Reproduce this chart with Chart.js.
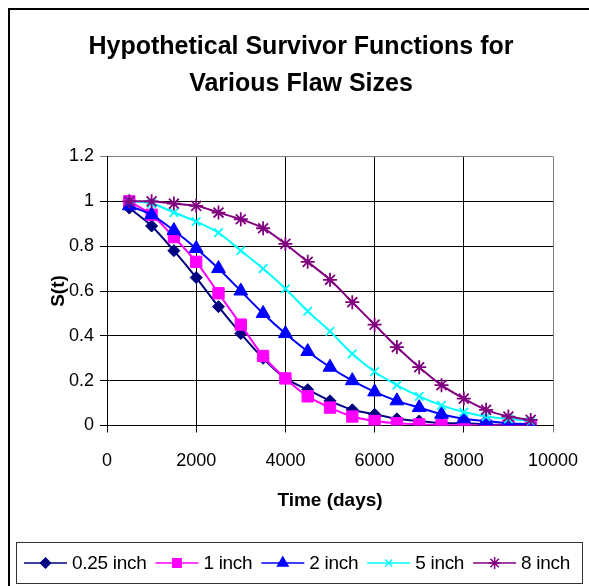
<!DOCTYPE html>
<html>
<head>
<meta charset="utf-8">
<script src="https://cdn.jsdelivr.net/npm/chart.js@4/dist/chart.umd.min.js"></script>
<style>
	html, body { margin: 0; padding: 0; background: #fff; }
	#wrap { width: 589px; height: 586px; }
</style>
</head>
<body>
<div id="wrap"><canvas id="survivor-chart" width="589" height="586"></canvas></div>
<script>
const times = [500, 1000, 1500, 2000, 2500, 3000, 3500, 4000, 4500, 5000, 5500, 6000, 6500, 7000, 7500, 8000, 8500, 9000, 9500];
const flaw025 = [0.97, 0.89, 0.78, 0.66, 0.53, 0.41, 0.30, 0.21, 0.16, 0.11, 0.07, 0.05, 0.03, 0.02, 0.01, 0.01, 0.005, 0.003, 0.002];
const flaw1 = [1.00, 0.94, 0.84, 0.73, 0.59, 0.45, 0.31, 0.21, 0.13, 0.08, 0.04, 0.02, 0.01, 0.005, 0.002, 0.001, 0, 0, 0];
const flaw2 = [0.98, 0.94, 0.87, 0.79, 0.70, 0.60, 0.50, 0.41, 0.33, 0.26, 0.20, 0.15, 0.11, 0.08, 0.05, 0.03, 0.02, 0.01, 0.005];
const flaw5 = [1.00, 0.99, 0.95, 0.91, 0.86, 0.78, 0.70, 0.61, 0.51, 0.42, 0.32, 0.24, 0.18, 0.13, 0.09, 0.06, 0.04, 0.03, 0.02];
const flaw8 = [1.00, 1.00, 0.99, 0.98, 0.95, 0.92, 0.88, 0.81, 0.73, 0.65, 0.55, 0.45, 0.35, 0.26, 0.18, 0.12, 0.07, 0.04, 0.025];

const seriesNames = ['0.25 inch', '1 inch', '2 inch', '5 inch', '8 inch'];
const seriesValues = [flaw025, flaw1, flaw2, flaw5, flaw8];
const seriesColors = ['#000080', '#FF00FF', '#0000FF', '#00FFFF', '#800080'];
const seriesMarkers = ['rectRot', 'rect', 'triangle', 'crossRot', 'star'];
const markerSizes = [6, 8, 8, 6, 7];
const legendSizes = [5, 6, 6, 5, 6];

const FONT = 'Arial, "Liberation Sans", sans-serif';

const toPoints = (vals) => vals.map((v, i) => ({x: times[i], y: v}));

// outer frame + Excel style legend box
const excelFrame = {
	id: 'excelFrame',
	afterDraw(chart) {
		const ctx = chart.ctx;
		ctx.save();
		ctx.strokeStyle = '#000';
		ctx.lineWidth = 2;
		ctx.strokeRect(9, 9, 700, 700);

		ctx.lineWidth = 1;
		ctx.strokeStyle = '#333';
		ctx.strokeRect(16.5, 542.5, 566, 41);

		const y = 563;
		let x = 24;
		ctx.font = '19px ' + FONT;
		ctx.letterSpacing = '-0.3px';
		ctx.textBaseline = 'middle';
		seriesNames.forEach((name, i) => {
			ctx.strokeStyle = seriesColors[i];
			ctx.lineWidth = 1.5;
			ctx.beginPath();
			ctx.moveTo(x, y);
			ctx.lineTo(x + 43, y);
			ctx.stroke();
			ctx.fillStyle = seriesColors[i];
			Chart.helpers.drawPoint(ctx, {
				pointStyle: seriesMarkers[i],
				radius: legendSizes[i],
				rotation: 0,
				borderWidth: 1.5,
			}, x + 21.5, y);
			ctx.fillStyle = '#000';
			ctx.fillText(name, x + 48, y + 1);
			x += 48 + ctx.measureText(name).width + 9;
		});
		ctx.restore();
	}
};

new Chart(
	document.getElementById('survivor-chart'),
	{
		type: 'line',
		data: {
			datasets: seriesNames.map((name, i) => ({
				label: name,
				data: toPoints(seriesValues[i]),
				borderColor: seriesColors[i],
				backgroundColor: seriesColors[i],
				borderWidth: 2,
				pointStyle: seriesMarkers[i],
				pointRadius: markerSizes[i],
				pointBorderWidth: (seriesMarkers[i] === 'crossRot' || seriesMarkers[i] === 'star') ? 1.8 : 1,
				tension: 0.3,
				order: seriesNames.length - i,
			}))
		},
		options: {
			responsive: false,
			animation: false,
			layout: {
				padding: {left: 49, right: 36, top: 10, bottom: 70},
			},
			plugins: {
				legend: {display: false},
				tooltip: {enabled: false},
				title: {
					display: true,
					text: ['Hypothetical Survivor Functions for', 'Various Flaw Sizes'],
					color: '#000',
					font: {family: FONT, size: 25, weight: 'bold', lineHeight: 1.5},
					padding: {top: 18, bottom: 53.5},
				},
			},
			scales: {
				x: {
					type: 'linear',
					min: 0,
					max: 10000,
					afterFit: (scale) => {
						scale.height = 90.5;
						scale.paddingLeft = 0;
						scale.paddingRight = 0;
					},
					ticks: {
						stepSize: 2000,
						color: '#000',
						font: {family: FONT, size: 18},
						padding: 18,
						maxRotation: 0,
						callback: (v) => String(v),
					},
					grid: {
						color: (c) => c.tick && c.tick.value === 10000 ? '#808080' : '#000',
						tickLength: 7,
					},
					border: {color: '#000'},
					title: {
						display: true,
						text: 'Time (days)',
						color: '#000',
						font: {family: FONT, size: 19, weight: 'bold'},
						padding: {top: 0, bottom: 4},
					},
				},
				y: {
					min: 0,
					max: 1.2,
					afterFit: (scale) => { scale.width = 58; },
					ticks: {
						stepSize: 0.2,
						color: '#000',
						font: {family: FONT, size: 18},
						padding: 6,
						callback: (v) => String(+v.toFixed(1)),
					},
					grid: {
						color: (c) => c.tick && Math.abs(c.tick.value - 1.2) < 1e-6 ? '#808080' : '#000',
						tickLength: 7,
					},
					border: {color: '#000'},
					title: {
						display: true,
						text: 'S(t)',
						color: '#000',
						font: {family: FONT, size: 19, weight: 'bold', lineHeight: 1},
						padding: {top: 0, bottom: 0},
					},
				}
			}
		},
		plugins: [excelFrame],
	}
);
</script>
</body>
</html>
